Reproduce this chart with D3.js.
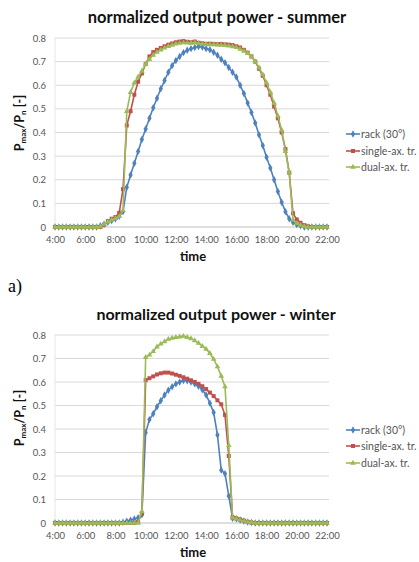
<!DOCTYPE html>
<html><head><meta charset="utf-8">
<script src="https://cdn.jsdelivr.net/npm/d3@7"></script>
<style>body{margin:0;background:#fff}svg{display:block}</style>
</head><body>
<svg id="c" width="419" height="562"></svg>
<script>
// time categories: 4:00 .. 22:00 every 15 min (73 points)
const startHour = 4, stepHours = 0.25;
const xTickHours = [4, 6, 8, 10, 12, 14, 16, 18, 20, 22];
const yTicks = [0, 0.1, 0.2, 0.3, 0.4, 0.5, 0.6, 0.7, 0.8];
const seriesNames = ["rack (30°)", "single-ax. tr.", "dual-ax. tr."];
const colors = ["#4F81BD", "#C0504D", "#9BBB59"];

const summerRack = [0,0,0,0,0,0,0,0,0,0,0,0,
  0.005,0.012,0.02,0.027,0.035,0.045,0.065,0.168,0.22,0.27,0.32,0.37,0.415,0.46,0.505,0.545,0.585,0.62,0.655,0.683,
  0.705,0.722,0.738,0.748,0.755,0.76,0.764,0.762,0.755,0.75,0.74,0.727,0.71,0.695,0.675,0.655,0.635,0.60,0.565,0.525,
  0.485,0.44,0.39,0.345,0.295,0.25,0.20,0.15,0.105,0.065,0.035,0.02,0.01,0.005,0,0,0,0,0,0,0];
const summerSingle = [0,0,0,0,0,0,0,0,0,0,0,0,
  0,0.01,0.025,0.035,0.042,0.06,0.16,0.43,0.49,0.56,0.615,0.65,0.69,0.722,0.74,0.75,0.758,0.765,0.772,0.777,
  0.782,0.785,0.787,0.784,0.782,0.785,0.78,0.778,0.775,0.776,0.775,0.774,0.775,0.773,0.772,0.77,0.765,0.76,0.75,0.738,
  0.722,0.70,0.67,0.64,0.60,0.56,0.51,0.46,0.40,0.33,0.23,0.058,0.032,0.018,0.008,0.003,0,0,0,0,0];
const summerDual = [0,0,0,0,0,0,0,0,0,0,0,0,
  0.002,0.012,0.022,0.03,0.037,0.045,0.07,0.49,0.57,0.61,0.635,0.66,0.69,0.71,0.728,0.74,0.75,0.758,0.765,0.77,
  0.775,0.778,0.78,0.779,0.778,0.78,0.777,0.775,0.773,0.772,0.772,0.771,0.77,0.769,0.767,0.764,0.76,0.753,0.745,0.735,
  0.72,0.70,0.675,0.645,0.61,0.57,0.525,0.47,0.41,0.32,0.23,0.03,0.015,0.008,0.003,0,0,0,0,0,0];

const winterRack = [0,0,0,0,0,0,0,0,0,0,0,0,0,0,0,0,0,0,
  0.003,0.008,0.012,0.017,0.022,0.035,0.385,0.44,0.465,0.495,0.52,0.545,0.565,0.58,0.592,0.60,0.606,0.605,0.60,0.592,
  0.582,0.567,0.545,0.51,0.47,0.375,0.225,0.21,0.115,0.02,0.018,0.013,0.008,0.004,0.002,
  0,0,0,0,0,0,0,0,0,0,0,0,0,0,0,0,0,0,0,0];
const winterSingle = [0,0,0,0,0,0,0,0,0,0,0,0,0,0,0,0,0,0,
  0,0,0,0,0.005,0.04,0.608,0.616,0.624,0.632,0.637,0.64,0.64,0.636,0.631,0.626,0.62,0.614,0.607,0.60,
  0.592,0.582,0.57,0.555,0.54,0.522,0.505,0.46,0.285,0.025,0.02,0.015,0.01,0.005,0.002,
  0,0,0,0,0,0,0,0,0,0,0,0,0,0,0,0,0,0,0,0];
const winterDual = [0,0,0,0,0,0,0,0,0,0,0,0,0,0,0,0,0,0,
  0,0,0,0,0,0.05,0.705,0.715,0.73,0.75,0.762,0.772,0.782,0.787,0.79,0.792,0.795,0.79,0.785,0.776,
  0.765,0.752,0.74,0.722,0.697,0.665,0.625,0.58,0.33,0.022,0.018,0.012,0.008,0.004,0.002,
  0,0,0,0,0,0,0,0,0,0,0,0,0,0,0,0,0,0,0,0];

const svg = d3.select("#c");
const font = "Lato, 'Open Sans', sans-serif";

function drawChart(o) {
  const g = svg.append("g");
  const x = d3.scaleLinear().domain([4, 22]).range([55, 327]);
  const y = d3.scaleLinear().domain([0, 0.8]).range([o.y0, o.y8]);

  // title
  g.append("text").attr("x", o.titleX).attr("y", o.titleY).attr("text-anchor", "middle")
    .attr("font-family", font).attr("font-weight", "bold").attr("font-size", o.titleSize)
    .attr("fill", "#111").text(o.title);

  // gridlines
  g.append("g").selectAll("line").data(yTicks.filter(d => d > 0)).join("line")
    .attr("x1", 55).attr("x2", 329).attr("y1", d => y(d)).attr("y2", d => y(d))
    .attr("stroke", "#D9D9D9").attr("stroke-width", 1);
  // axes lines
  g.append("line").attr("x1", 55).attr("x2", 329).attr("y1", y(0)).attr("y2", y(0))
    .attr("stroke", "#BFBFBF");
  g.append("line").attr("x1", 55).attr("x2", 55).attr("y1", y(0)).attr("y2", y(0.8))
    .attr("stroke", "#E6E6E6");

  // y axis
  const ya = d3.axisLeft(y).tickValues(yTicks).tickSize(0).tickPadding(9)
    .tickFormat(d => d === 0 ? "0" : d.toFixed(1));
  const yg = g.append("g").attr("transform", "translate(55,0)").call(ya);
  yg.select(".domain").remove();
  yg.selectAll("text").attr("font-family", font).attr("font-size", 9.5).attr("fill", "#555");

  // x axis
  const xa = d3.axisBottom(x).tickValues(xTickHours).tickSize(0).tickPadding(9)
    .tickFormat(d => d + ":00");
  const xg = g.append("g").attr("transform", `translate(0,${y(0)})`).call(xa);
  xg.select(".domain").remove();
  xg.selectAll("text").attr("font-family", font).attr("font-size", 9.5).attr("fill", "#555");

  // axis titles
  g.append("text").attr("x", 193).attr("y", o.timeY).attr("text-anchor", "middle")
    .attr("font-family", font).attr("font-weight", "bold").attr("font-size", 13).attr("fill", "#111")
    .text("time");
  const yl = g.append("text").attr("transform", `translate(24,${o.ylabY}) rotate(-90)`)
    .attr("text-anchor", "middle").attr("font-family", font).attr("font-weight", "bold")
    .attr("font-size", 12.5).attr("fill", "#111");
  yl.append("tspan").text("P");
  yl.append("tspan").attr("font-size", 8).attr("dy", 2).text("max");
  yl.append("tspan").attr("dy", -2).text("/P");
  yl.append("tspan").attr("font-size", 8).attr("dy", 2).text("n");
  yl.append("tspan").attr("dy", -2).text(" [-]");

  // series
  const symbols = [d3.symbolDiamond, d3.symbolSquare, d3.symbolTriangle];
  const sizes = [16, 16, 14];
  o.series.forEach((vals, si) => {
    const pts = vals.map((v, i) => [startHour + i * stepHours, v]);
    g.append("path").datum(pts)
      .attr("d", d3.line().x(d => x(d[0])).y(d => y(d[1])))
      .attr("fill", "none").attr("stroke", colors[si]).attr("stroke-width", 1.6);
    g.append("g").selectAll("path").data(pts).join("path")
      .attr("transform", d => `translate(${x(d[0])},${y(d[1])})`)
      .attr("d", d3.symbol().type(symbols[si]).size(sizes[si]))
      .attr("fill", colors[si]);
  });

  // legend
  seriesNames.forEach((name, si) => {
    const ly = o.legY[si];
    g.append("line").attr("x1", 346).attr("x2", 360).attr("y1", ly).attr("y2", ly)
      .attr("stroke", colors[si]).attr("stroke-width", 1.6);
    g.append("path").attr("transform", `translate(353,${ly})`)
      .attr("d", d3.symbol().type(symbols[si]).size(sizes[si])).attr("fill", colors[si]);
    g.append("text").attr("x", 361).attr("y", ly + 3.5).attr("font-family", font)
      .attr("font-size", 10.5).attr("fill", "#555").text(name);
  });
}

drawChart({
  title: "normalized output power - summer", titleX: 217, titleY: 23, titleSize: 16.5,
  y0: 227, y8: 38, timeY: 261, ylabY: 123, legY: [134, 151, 167],
  series: [summerRack, summerSingle, summerDual]
});
drawChart({
  title: "normalized output power - winter", titleX: 216, titleY: 320, titleSize: 16,
  y0: 523, y8: 335, timeY: 557, ylabY: 418, legY: [430, 446, 463],
  series: [winterRack, winterSingle, winterDual]
});

svg.append("text").attr("x", 8).attr("y", 292).attr("font-family", "'Liberation Serif', serif")
  .attr("font-size", 18).attr("fill", "#000").text("a)");
</script>
</body></html>
